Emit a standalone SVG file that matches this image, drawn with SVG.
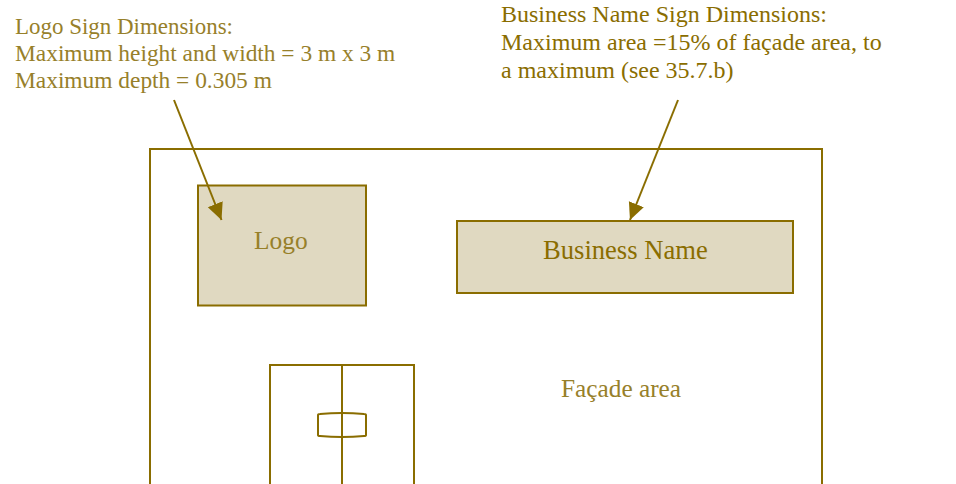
<svg xmlns="http://www.w3.org/2000/svg" width="956" height="484" viewBox="0 0 956 484">
<style>
.l{fill:none;stroke:#8a6d00;stroke-width:2}
.s{fill:#e0d9c1;stroke:#8a6d00;stroke-width:2}
.t{font-family:"Liberation Serif",serif;fill:#8a6d00}
.g{fill:#97802a}
.c{stroke:#8a6d00;stroke-width:2;fill:none;marker-end:url(#a)}
</style>
<defs><marker id="a" markerUnits="userSpaceOnUse" markerWidth="20" markerHeight="18" refX="17" refY="8" orient="auto"><path d="M0 0L17 8L0 16z" fill="#8a6d00"/></marker></defs>
<rect width="956" height="484" fill="#fff"/>
<g id="facade"><path class="l" d="M150 484V149H822V484"/><text class="t g" x="561" y="397" font-size="25.300">Façade area</text></g>
<g id="logo"><rect class="s" x="198" y="185.500" width="168" height="120"/><text class="t g" x="254" y="248.500" font-size="25.400">Logo</text></g>
<g id="business"><rect class="s" x="457" y="221" width="336" height="72"/><text class="t" x="543" y="258.500" font-size="26.600">Business Name</text></g>
<g id="door"><path class="l" d="M270 484V365H414V484M342 365V484"/><path class="l" d="M318 415Q318 414 320 414Q342 412 364 414Q366 414 366 415V435Q366 436 364 436Q342 438 320 436Q318 436 318 435Z"/></g>
<g id="connectors"><path class="c" d="M174 100L221.500 220"/><path class="c" d="M678 100L630 220"/></g>
<g id="logo-note"><text class="t g" font-size="23.400"><tspan x="15" y="34" textLength="218" lengthAdjust="spacingAndGlyphs">Logo Sign Dimensions:</tspan><tspan x="15" y="61">Maximum height and width = 3 m x 3 m</tspan><tspan x="15" y="88">Maximum depth = 0.305 m</tspan></text></g>
<g id="business-note"><text class="t" font-size="24"><tspan x="501" y="22">Business Name Sign Dimensions:</tspan><tspan x="501" y="50">Maximum area =15% of façade area, to</tspan><tspan x="501" y="78">a maximum (see 35.7.b)</tspan></text></g>
</svg>
